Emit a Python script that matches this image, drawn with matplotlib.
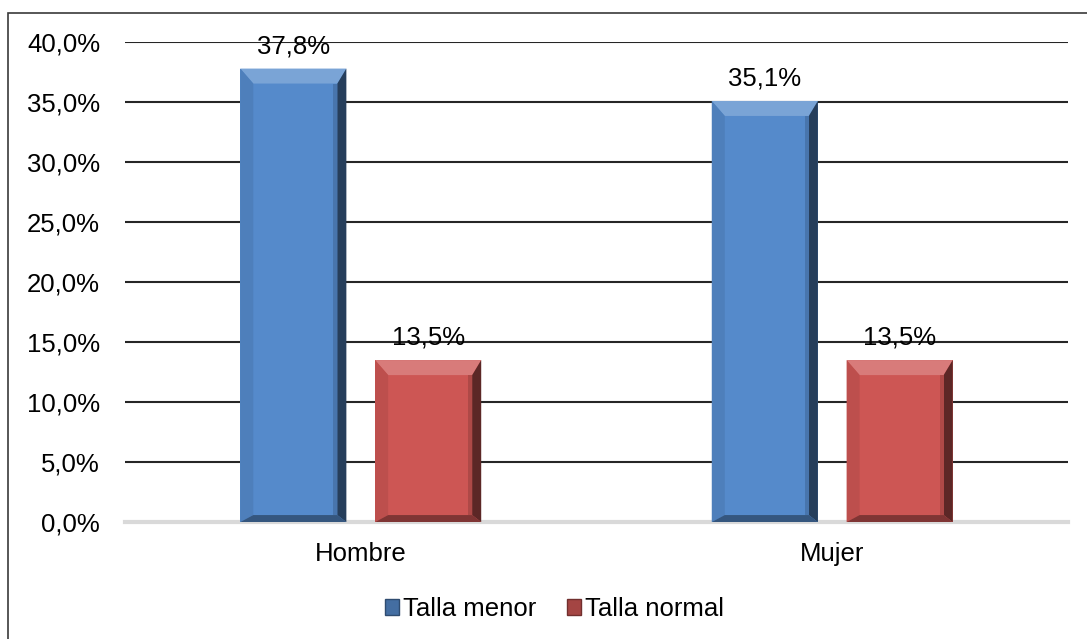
import matplotlib.pyplot as plt
import numpy as np
from matplotlib.colors import to_rgb
from matplotlib.patches import Polygon, Rectangle

plt.rcParams["font.family"] = ["Liberation Sans", "DejaVu Sans"]

categories = ["Hombre", "Mujer"]
series_names = ["Talla menor", "Talla normal"]
talla_menor = [37.8, 35.1]
talla_normal = [13.5, 13.5]
y_ticks = [0, 5, 10, 15, 20, 25, 30, 35, 40]

colors = ["#558ACB", "#CD5654"]
FS = 18.5


def mix(color, other, t):
    c = np.array(to_rgb(color))
    o = np.array(to_rgb(other))
    return tuple(c * (1 - t) + o * t)


def bevel(ax, rect, color, px_x=13, px_y=15, px_bottom=7, px_right=9):
    # convert bevel sizes from pixels to data units
    x0, x1 = ax.get_xlim()
    y0, y1 = ax.get_ylim()
    bbox = ax.get_window_extent()
    ux = (x1 - x0) / bbox.width
    uy = (y1 - y0) / bbox.height
    x, y = rect.get_x(), rect.get_y()
    w, h = rect.get_width(), rect.get_height()
    bx, by, bb, br = px_x * ux, px_y * uy, px_bottom * uy, px_right * ux
    tl, tr = (x, y + h), (x + w, y + h)
    bl, brc = (x, y), (x + w, y)
    itl, itr = (x + bx, y + h - by), (x + w - br, y + h - by)
    ibl, ibr = (x + bx, y + bb), (x + w - br, y + bb)
    faces = [
        ([tl, tr, itr, itl], mix(color, "white", 0.22)),
        ([tl, itl, ibl, bl], mix(color, "black", 0.08)),
        ([tr, brc, ibr, itr], mix(color, "black", 0.55)),
        ([bl, ibl, ibr, brc], mix(color, "black", 0.38)),
    ]
    for pts, c in faces:
        ax.add_patch(Polygon(pts, closed=True, facecolor=c, edgecolor="none", zorder=3))
    # softer shading strip next to the right bevel
    s = 4 * ux
    ax.add_patch(Polygon([(itr[0] - s, itr[1]), itr, ibr, (ibr[0] - s, ibr[1])], closed=True,
                         facecolor=mix(color, "black", 0.15), edgecolor="none", zorder=3))


fig = plt.figure(figsize=(10.87, 6.39), dpi=100)
ax = fig.add_axes([0.115, 0.183, 0.8675, 0.751])

x = np.arange(len(categories))
offset = 0.143
width = 0.225
bars_a = ax.bar(x - offset, talla_menor, width, color=colors[0], zorder=2, label=series_names[0])
bars_b = ax.bar(x + offset, talla_normal, width, color=colors[1], zorder=2, label=series_names[1])

ax.set_xlim(-0.5, 1.5)
ax.set_ylim(0, 40)
ax.set_yticks(y_ticks)
ax.set_yticklabels([f"{v:.1f}%".replace(".", ",") for v in y_ticks])
ax.set_xticks(x)
ax.set_xticklabels(categories)
ax.tick_params(axis="y", length=0, pad=18, labelsize=FS)
ax.tick_params(axis="x", length=0, pad=14, labelsize=FS)

for v in y_ticks[1:]:
    ax.axhline(v, color="#262626", lw=1.5, zorder=1)
for s in ["top", "right", "left"]:
    ax.spines[s].set_visible(False)
ax.spines["bottom"].set_color("#D9D9D9")
ax.spines["bottom"].set_linewidth(3)
ax.spines["bottom"].set_zorder(1)

fig.canvas.draw()
for bars, col in [(bars_a, colors[0]), (bars_b, colors[1])]:
    for rect in bars:
        bevel(ax, rect, col)
        val = rect.get_height()
        ax.annotate(f"{val:.1f}%".replace(".", ","),
                    (rect.get_x() + rect.get_width() / 2, val),
                    xytext=(0, 11), textcoords="offset points",
                    ha="center", va="baseline", fontsize=FS, zorder=5)

handles = [Rectangle((0, 0), 1, 1, facecolor=mix(c, "black", 0.2), edgecolor=mix(c, "black", 0.45))
           for c in colors]
fig.legend(handles, series_names, loc="center", bbox_to_anchor=(0.51, 0.047), ncol=2,
           frameon=False, fontsize=FS, handlelength=0.55, handleheight=0.55,
           handletextpad=0.15, columnspacing=1.2)

# outer chart border
fig.add_artist(Rectangle((8 / 1087, -0.01), 1.1, 1 - 13 / 639 + 0.01, transform=fig.transFigure,
                         fill=False, edgecolor="#3a3a3a", lw=1.2))

fig.savefig("out.png", dpi=100)
